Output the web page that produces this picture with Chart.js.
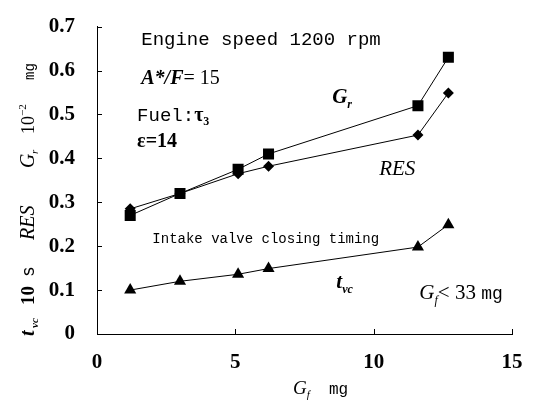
<!DOCTYPE html>
<html>
<head>
<meta charset="utf-8">
<script src="https://cdn.jsdelivr.net/npm/chart.js@4"></script>
<style>
  html, body { margin: 0; padding: 0; background: #fff; }
  #wrap { width: 534px; height: 403px; }
</style>
</head>
<body>
<div id="wrap"><canvas id="chart" width="534" height="403"></canvas></div>
<script>
// Fuel amount G_f (mg) at each test point
const fuelMass = [1.2, 3.0, 5.1, 6.2, 11.6, 12.7];
// Residual gas G_r, 10^-2 mg (squares)
const residualGas = [0.27, 0.32, 0.375, 0.41, 0.52, 0.63];
// RES (diamonds)
const resValues = [0.285, 0.32, 0.365, 0.382, 0.453, 0.549];
// Intake valve closing timing t_vc, 10 s (triangles)
const tvcValues = [0.1, 0.12, 0.136, 0.149, 0.198, 0.249];

const xTicks = [0, 5, 10, 15];
const yTicks = [0, 0.1, 0.2, 0.3, 0.4, 0.5, 0.6, 0.7];

const serif = '"Liberation Serif", "DejaVu Serif", serif';
const mono = '"Liberation Mono", "DejaVu Sans Mono", monospace';

function toPoints(ys) {
  return fuelMass.map((x, i) => ({ x: x, y: ys[i] }));
}

function series(ys, style, radius) {
  return {
    data: toPoints(ys),
    borderColor: '#000',
    backgroundColor: '#000',
    borderWidth: 1,
    pointStyle: style,
    pointRadius: radius,
    pointBorderWidth: 0,
    pointBackgroundColor: '#000',
    showLine: true,
    tension: 0,
  };
}

// Draw a run of text pieces: [text, font, dy]
function drawRun(ctx, x, y, parts) {
  let cx = x;
  for (const [text, font, dy] of parts) {
    ctx.font = font;
    ctx.fillText(text, cx, y + (dy || 0));
    cx += ctx.measureText(text).width;
  }
}

// Inward tick marks, axis titles and the in-plot notes
const decorations = {
  id: 'decorations',
  afterDraw(chart) {
    const ctx = chart.ctx;
    const xs = chart.scales.x;
    const ys = chart.scales.y;
    const area = chart.chartArea;
    ctx.save();
    ctx.strokeStyle = '#000';
    ctx.lineWidth = 1;
    ctx.beginPath();
    for (const t of yTicks) {
      const py = Math.round(ys.getPixelForValue(t)) + 0.5;
      ctx.moveTo(area.left, py);
      ctx.lineTo(area.left + 5, py);
    }
    for (const t of xTicks) {
      const px = Math.round(xs.getPixelForValue(t)) + 0.5;
      ctx.moveTo(px, area.bottom);
      ctx.lineTo(px, area.bottom - 5);
    }
    ctx.stroke();

    ctx.fillStyle = '#000';
    ctx.textBaseline = 'alphabetic';
    ctx.textAlign = 'left';
    const P = (x, y) => [xs.getPixelForValue(x), ys.getPixelForValue(y)];
    const it = 'italic bold 21px ' + serif;
    const itSmall = 'italic bold 12px ' + serif;

    let [px, py] = P(1.6, 0.658);
    drawRun(ctx, px, py, [['Engine speed 1200 rpm', '19px ' + mono]]);
    [px, py] = P(1.6, 0.569);
    drawRun(ctx, px, py, [['A*/F', 'italic bold 20px ' + serif], ['= 15', '20px ' + serif]]);
    [px, py] = P(1.45, 0.485);
    drawRun(ctx, px, py, [['Fuel:', '19px ' + mono], ['\u03c4', 'bold 20px ' + serif], ['3', 'bold 12px ' + serif, 4]]);
    [px, py] = P(1.45, 0.425);
    drawRun(ctx, px, py, [['\u03b5=14', 'bold 20px ' + serif]]);
    [px, py] = P(8.5, 0.525);
    drawRun(ctx, px, py, [['G', it], ['r', itSmall, 5]]);
    [px, py] = P(10.2, 0.363);
    drawRun(ctx, px, py, [['RES', 'italic 21px ' + serif]]);
    [px, py] = P(2.0, 0.208);
    drawRun(ctx, px, py, [['Intake valve closing timing', '14px ' + mono]]);
    [px, py] = P(8.65, 0.104);
    drawRun(ctx, px, py, [['t', it], ['vc', itSmall, 5]]);
    [px, py] = P(11.65, 0.08);
    drawRun(ctx, px, py, [['G', 'italic 21px ' + serif], ['f', 'italic 12px ' + serif, 5], ['< 33 ', '21px ' + serif], ['mg', '18px ' + mono]]);

    // x axis title
    drawRun(ctx, 293, 394, [['G', 'italic 19px ' + serif], ['f', 'italic 11px ' + serif, 4], ['  mg', '16px ' + mono]]);

    // y axis title, rotated; offsets measured along the axis from the top
    ctx.translate(34, 0);
    ctx.rotate(-Math.PI / 2);
    const pieces = [
      [-336, 't', 'italic bold 20px ' + serif, 0],
      [-328, 'vc', 'italic bold 11px ' + serif, 4],
      [-305, '10', 'bold 19px ' + serif, 0],
      [-277, 's', '18px ' + mono, 0],
      [-240, 'RES', 'italic 20px ' + serif, 0],
      [-168, 'G', 'italic 20px ' + serif, 0],
      [-154, 'r', 'italic 11px ' + serif, 4],
      [-134, '10', '18px ' + serif, 0],
      [-116, '\u22122', '11px ' + serif, -8],
      [-80, 'mg', '14px ' + mono, 0],
    ];
    for (const [off, text, font, dy] of pieces) {
      ctx.font = font;
      ctx.fillText(text, off, dy);
    }
    ctx.restore();
  },
};

new Chart(document.getElementById('chart'), {
  type: 'scatter',
  data: {
    datasets: [
      series(residualGas, 'rect', 7.8),
      series(resValues, 'rectRot', 5.5),
      series(tvcValues, 'triangle', 7),
    ],
  },
  options: {
    responsive: false,
    animation: false,
    layout: { padding: { top: 18, right: 22, left: 0, bottom: 0 } },
    plugins: { legend: { display: false }, tooltip: { enabled: false } },
    scales: {
      x: {
        type: 'linear',
        min: 0,
        max: 15,
        afterBuildTicks: (s) => { s.ticks = xTicks.map((v) => ({ value: v })); },
        afterFit: (s) => { s.height = 69; },
        grid: { display: false },
        border: { display: true, color: '#000', width: 1 },
        ticks: { color: '#000', font: { family: serif, size: 21, weight: 'bold' }, padding: 8 },
      },
      y: {
        type: 'linear',
        min: 0,
        max: 0.7,
        afterBuildTicks: (s) => { s.ticks = yTicks.map((v) => ({ value: v })); },
        afterFit: (s) => { s.width = 97; },
        grid: { display: false },
        border: { display: true, color: '#000', width: 1 },
        ticks: {
          color: '#000',
          font: { family: serif, size: 21, weight: 'bold' },
          padding: 14,
          callback: (v) => (v === 0 ? '0' : v.toFixed(1)),
        },
      },
    },
  },
  plugins: [decorations],
});
</script>
</body>
</html>
